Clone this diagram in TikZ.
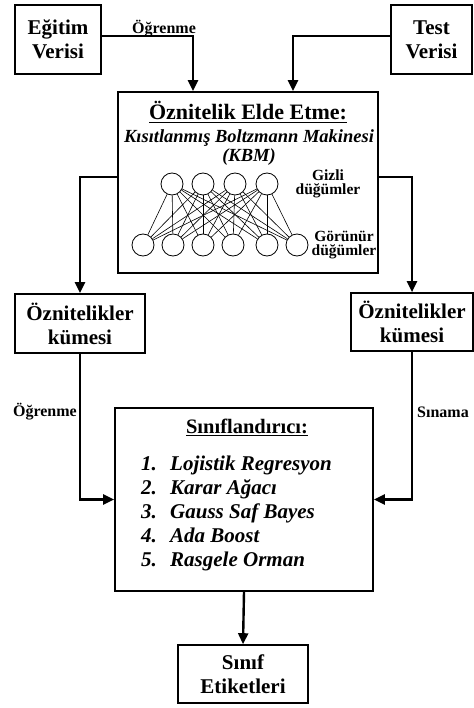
\documentclass[tikz,border=0pt]{standalone}
\usepackage{fontspec}
\setmainfont{Liberation Serif}
\usetikzlibrary{arrows.meta,positioning}

\newcommand\boxtext{\fontsize{21}{24}\selectfont\bfseries}
\newcommand\listtext{\fontsize{21}{24}\selectfont\bfseries\itshape}
\newcommand\edgetext{\fontsize{16}{18}\selectfont\bfseries}

\begin{document}
\begin{tikzpicture}[
        x = 1pt, y = -1pt, % pixel grid of the figure
        > = {Triangle[length=11pt,width=10pt]}, % arrow head style
        box/.style = {draw, line width=1.6pt, align=center, inner sep=0pt, font=\boxtext},
        flow/.style = {->, line width=2.4pt},
        unit/.style = {draw, circle, line width=0.8pt, minimum size=22pt, inner sep=0pt},
        note/.style = {align=center, inner sep=0pt, font=\fontsize{15.5}{14}\selectfont\bfseries}
        ]

        \useasboundingbox (0,0) rectangle (473,708);

        % input data
        \node[box, minimum width=86pt, minimum height=69pt] (egitim) at (58,39.5) {Eğitim\\Verisi};
        \node[box, minimum width=81pt, minimum height=69pt] (test) at (431.5,39.5) {Test\\Verisi};

        % feature extraction with the RBM
        \node[box, minimum width=260pt, minimum height=181pt] (kbm) at (248,182.5) {};
        \node[inner sep=0pt, font=\fontsize{22}{24}\selectfont\bfseries] (baslik) at (248,112) {\underline{Öznitelik Elde Etme:}};
        \node[inner sep=0pt, align=center, font=\fontsize{18.5}{19}\selectfont\bfseries\itshape] (kbmad) at (249,148) {Kısıtlanmış Boltzmann Makinesi\\(KBM)};

        \foreach \x [count=\i] in {172,203,235,267}
            \node[unit] (h\i) at (\x,184) {};
        \foreach \x [count=\i] in {143,173,203,233,267,297}
            \node[unit] (v\i) at (\x,245) {};
        \foreach \i in {1,...,4}
            \foreach \j in {1,...,6}
                \draw[line width=0.6pt] (h\i) -- (v\j);

        \node[note] (gizli) at (328,184) {Gizli\\düğümler};
        \node[note] (gorunur) at (344,245) {Görünür\\düğümler};

        % feature sets
        \node[box, minimum width=130pt, minimum height=59pt] (featL) at (80,323.5) {Öznitelikler\\kümesi};
        \node[box, minimum width=122pt, minimum height=58pt] (featR) at (412,322) {Öznitelikler\\kümesi};

        % classifier
        \node[box, minimum width=258pt, minimum height=183pt] (clf) at (244,499.5) {};
        \node[inner sep=0pt, font=\fontsize{20.5}{24}\selectfont\bfseries] (clfad) at (247,427) {\underline{Sınıflandırıcı:}};
        \foreach \n/\txt/\yy in {1/Lojistik Regresyon/463, 2/Karar Ağacı/487, 3/Gauss Saf Bayes/511, 4/Ada Boost/535, 5/Rasgele Orman/559} {
            \node[anchor=base west, inner sep=0pt, font=\listtext] (n\n) at (141,\yy+7) {\n.};
            \node[anchor=base west, inner sep=0pt, font=\listtext] (m\n) at (170,\yy+7) {\txt};
        }

        % output
        \node[box, minimum width=130pt, minimum height=58pt] (etiket) at (243,674) {Sınıf\\Etiketleri};

        % connectors
        \draw[flow] ([yshift=3.5pt]egitim.east) -| ([xshift=-55pt]kbm.north);
        \draw[flow] ([yshift=3.5pt]test.west) -| ([xshift=45pt]kbm.north);
        \draw[flow] ([yshift=5.5pt]kbm.west) -| (featL.north);
        \draw[flow] ([yshift=5.5pt]kbm.east) -| (featR.north);
        \draw[flow] (featL.south) |- (clf.west);
        \draw[flow] (featR.south) |- (clf.east);
        \draw[flow] (clf.south) -- (etiket.north);

        \node[inner sep=0pt, font=\edgetext] (ogr1) at (164,29) {Öğrenme};
        \node[anchor=east, inner sep=0pt, font=\edgetext] (ogr2) at (77,412) {Öğrenme};
        \node[anchor=west, inner sep=0pt, font=\edgetext] (sin) at (417,412) {Sınama};

      \end{tikzpicture}
\end{document}
